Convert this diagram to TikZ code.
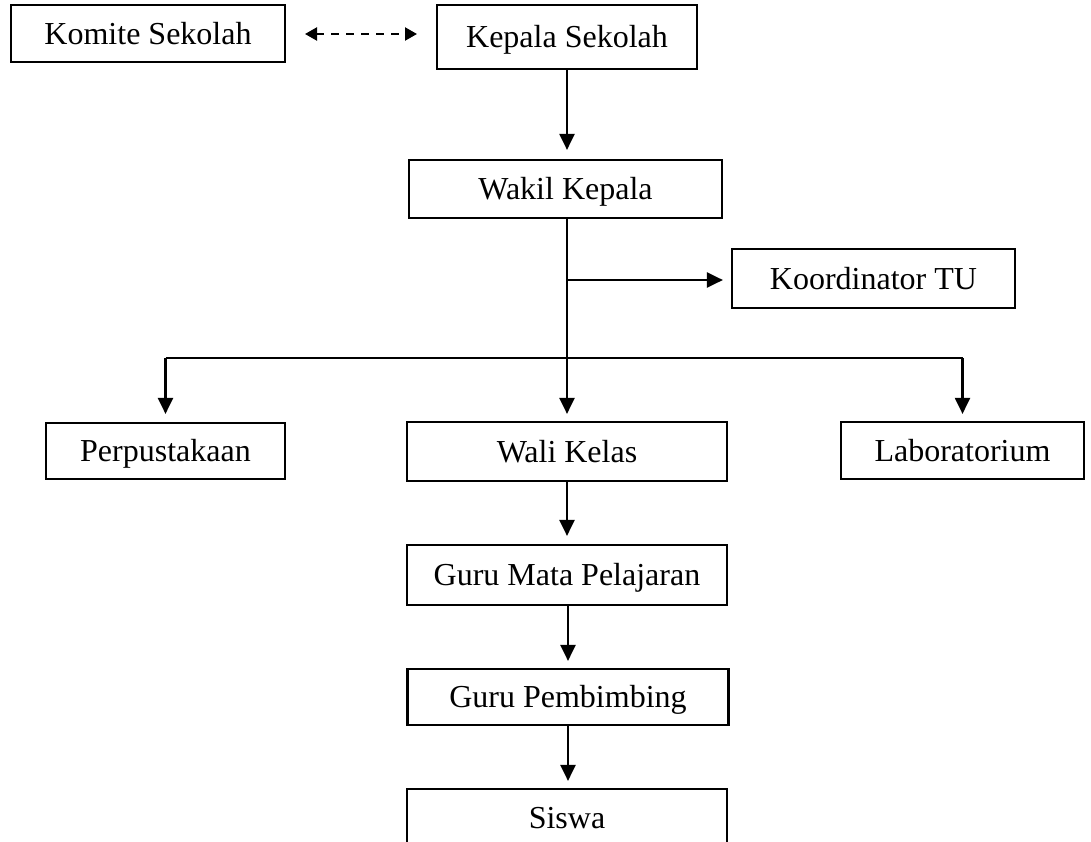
\documentclass[tikz,border=0pt]{standalone}
\usepackage{fontspec}
\setmainfont{Liberation Serif}
\usetikzlibrary{arrows.meta}
\begin{document}
\begin{tikzpicture}[x=1pt,y=1pt,
  box/.style={draw,line width=2.2pt,inner sep=0pt,text height=21pt,text depth=0pt,
    font=\fontsize{32}{38}\selectfont},
  arr/.style={line width=2.2pt,-{Triangle[length=16pt,width=15pt]}},
  darr/.style={line width=2.2pt,dash pattern=on 8pt off 7pt,
    {Triangle[length=12pt,width=13pt]}-{Triangle[length=12pt,width=13pt]}},
  ln/.style={line width=2.2pt}]
\useasboundingbox (0,0) rectangle (1091,-841);
\clip (0,0) rectangle (1091,-841);
\fill[white] (0,0) rectangle (1091,-841);
\node[box,minimum width=274pt,minimum height=57pt] (komite) at (148,-33.5) {Komite Sekolah};
\node[box,minimum width=260pt,minimum height=64pt] (kepala) at (567,-37) {Kepala Sekolah};
\node[box,minimum width=313pt,minimum height=58pt] (wakil) at (565.5,-189) {Wakil Kepala};
\node[box,minimum width=283pt,minimum height=59pt] (koord) at (873.5,-278.5) {Koordinator TU};
\node[box,minimum width=239pt,minimum height=56pt] (perp) at (165.5,-451) {Perpustakaan};
\node[box,minimum width=320pt,minimum height=59pt] (wali) at (567,-451.5) {Wali Kelas};
\node[box,minimum width=243pt,minimum height=57pt] (lab) at (962.5,-450.5) {Laboratorium};
\node[box,minimum width=320pt,minimum height=60pt] (gmp) at (567,-575) {Guru Mata Pelajaran};
\node[box,minimum width=321pt,minimum height=56pt] (gp) at (568,-697) {Guru Pembimbing};
\node[box,minimum width=320pt,minimum height=58pt] (siswa) at (567,-818) {Siswa};
\coordinate (dl) at (305,-34);
\coordinate (dr) at (417,-34);
\coordinate (br) at (567,-280);
\coordinate (bus) at (567,-358);
\draw[darr] (dl) -- (dr);
\draw[arr,shorten >=9pt] (kepala.south) -- (kepala.south |- wakil.north);
\draw[arr,shorten >=7pt] (wali.north |- wakil.south) -- (wali.north);
\draw[arr,shorten >=8pt] (br) -- (koord.west |- br);
\draw[ln] (perp.north |- bus) -- (lab.north |- bus);
\draw[arr,shorten >=8pt] (perp.north |- bus) -- (perp.north);
\draw[arr,shorten >=7pt] (lab.north |- bus) -- (lab.north);
\draw[arr,shorten >=8pt] (wali.south) -- (gmp.north);
\draw[arr,shorten >=7pt] (gmp.south -| gp.north) -- (gp.north);
\draw[arr,shorten >=7pt] (gp.south) -- (gp.south |- siswa.north);
\end{tikzpicture}
\end{document}
